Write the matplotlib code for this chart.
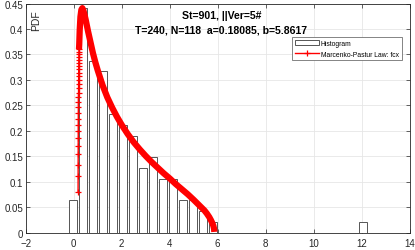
import matplotlib
matplotlib.use("Agg")
import matplotlib.pyplot as plt

plt.rcParams["font.family"] = ["Liberation Sans", "DejaVu Sans"]

# histogram (normalised as pdf)
bin_centers = [-0.02, 0.40, 0.81, 1.23, 1.65, 2.07, 2.48, 2.90, 3.32, 3.73,
               4.15, 4.57, 4.98, 5.40, 5.82, 12.07]
bin_density = [0.065, 0.442, 0.338, 0.317, 0.233, 0.212, 0.191, 0.128, 0.148, 0.106,
               0.106, 0.065, 0.065, 0.043, 0.021, 0.021]

# Marcenko-Pastur curve, steep rise where single markers are visible
mp_rise_x = [0.182, 0.184, 0.185, 0.187, 0.188, 0.189, 0.191, 0.192, 0.194, 0.195,
             0.197, 0.198, 0.199, 0.201, 0.202, 0.204, 0.205, 0.206, 0.208, 0.209,
             0.211, 0.212, 0.213, 0.215, 0.216, 0.218, 0.219]
mp_rise_y = [0.080, 0.111, 0.134, 0.154, 0.171, 0.186, 0.200, 0.212, 0.224, 0.236,
             0.247, 0.257, 0.266, 0.275, 0.284, 0.292, 0.300, 0.307, 0.314, 0.321,
             0.327, 0.333, 0.339, 0.345, 0.350, 0.355, 0.360]
# rest of the curve where markers merge into a thick band
mp_tail_x = [0.219, 0.23, 0.25, 0.28, 0.32, 0.36, 0.40, 0.45, 0.50, 0.60,
             0.70, 0.80, 0.90, 1.00, 1.20, 1.40, 1.60, 1.80, 2.00, 2.25,
             2.50, 2.75, 3.00, 3.25, 3.50, 3.75, 4.00, 4.25, 4.50, 4.75,
             5.00, 5.15, 5.30, 5.45, 5.55, 5.65, 5.72, 5.78, 5.82, 5.85, 5.86]
mp_tail_y = [0.360, 0.370, 0.398, 0.424, 0.438, 0.441, 0.437, 0.428, 0.418, 0.395,
             0.374, 0.353, 0.335, 0.319, 0.290, 0.266, 0.246, 0.228, 0.212, 0.194,
             0.178, 0.164, 0.151, 0.139, 0.128, 0.117, 0.107, 0.096, 0.086, 0.076,
             0.065, 0.058, 0.051, 0.044, 0.038, 0.031, 0.025, 0.019, 0.014, 0.008, 0.002]

xticks = [-2, 0, 2, 4, 6, 8, 10, 12, 14]
yticks = [0, 0.05, 0.1, 0.15, 0.2, 0.25, 0.3, 0.35, 0.4, 0.45]
ytick_labels = ["0", "0.05", "0.1", "0.15", "0.2", "0.25", "0.3", "0.35", "0.4", "0.45"]
title_lines = ["St=901, ||Ver=5#", "T=240, N=118  a=0.18085, b=5.8617"]
legend_labels = ["Histogram", "Marcenko-Pastur Law: fcx"]

axis_col = "#262626"

fig = plt.figure(figsize=(4.15, 2.51), dpi=100)
ax = fig.add_axes([0.062, 0.068, 0.925, 0.914])

bars = ax.bar(bin_centers, bin_density, width=0.34, facecolor="white",
              edgecolor="#555555", linewidth=0.7, zorder=2)
rise, = ax.plot(mp_rise_x, mp_rise_y, "-+", color="red", lw=1.0, ms=4.5,
                mew=0.9, zorder=3)
ax.plot(mp_tail_x, mp_tail_y, "-", color="red", lw=4.5, solid_capstyle="butt",
        zorder=3)

ax.set_xlim(-2, 14)
ax.set_ylim(0, 0.45)
ax.set_xticks(xticks)
ax.set_yticks(yticks)
ax.set_yticklabels(ytick_labels)
ax.grid(True, color="#e6e6e6", lw=0.6)
ax.set_axisbelow(True)
ax.tick_params(direction="in", length=3, width=0.5, labelsize=7,
               colors=axis_col, top=True, right=True, pad=2)
ax.tick_params(axis="x", pad=3.5)
for s in ax.spines.values():
    s.set_color(axis_col)
    s.set_linewidth(0.6)

ax.text(0.51, 0.951, title_lines[0], transform=ax.transAxes, ha="center",
        va="center", fontsize=7.6, fontweight="bold", color="black")
ax.text(0.51, 0.885, title_lines[1], transform=ax.transAxes, ha="center",
        va="center", fontsize=7.6, fontweight="bold", color="black")
ax.text(0.027, 0.976, "PDF", transform=ax.transAxes, ha="center", va="top",
        rotation=90, fontsize=7.5, color=axis_col)

leg = ax.legend([bars, rise], legend_labels, loc="upper right",
                bbox_to_anchor=(0.979, 0.853), borderaxespad=0, fontsize=4.9,
                handlelength=3.5, handletextpad=0.3, labelspacing=0.55,
                borderpad=0.4, fancybox=False, framealpha=1)
leg.get_frame().set_edgecolor("#707070")
leg.get_frame().set_linewidth(0.6)

fig.savefig("out.png", dpi=100)
